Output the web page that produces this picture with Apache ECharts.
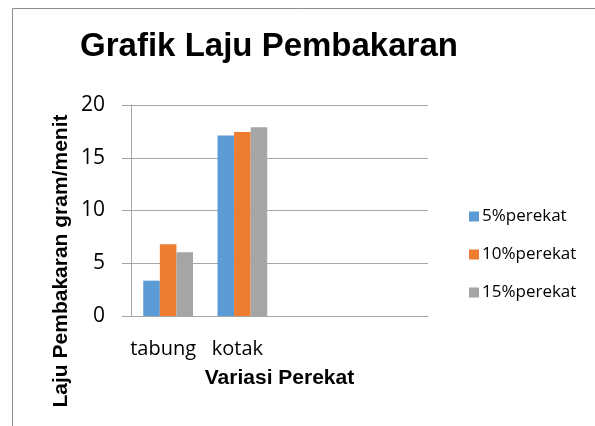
<!DOCTYPE html>
<html>
<head>
<meta charset="utf-8">
<script src="https://cdn.jsdelivr.net/npm/echarts@6/dist/echarts.min.js"></script>
<style>
    html, body { margin: 0; padding: 0; background: #fff; }
    #chart { width: 595px; height: 426px; }
</style>
</head>
<body>
<div id="chart"></div>
<script>
    // data
    var categories = ['tabung', 'kotak', '', ''];
    var seriesNames = ['5%perekat', '10%perekat', '15%perekat'];
    var perekat5 = [3.35, 17.1, null, null];
    var perekat10 = [6.8, 17.45, null, null];
    var perekat15 = [6.05, 17.9, null, null];
    var yTicks = [0, 5, 10, 15, 20];

    var colors = ['#5B9BD5', '#ED7D31', '#A5A5A5'];
    var chart = echarts.init(document.getElementById('chart'));

    function bar(name, data, color) {
        return {
            name: name,
            type: 'bar',
            data: data,
            barGap: '0%',
            barCategoryGap: '33%',
            itemStyle: { color: color },
            emphasis: { disabled: true }
        };
    }

    chart.setOption({
        animation: false,
        title: {
            text: 'Grafik Laju Pembakaran',
            left: 264,
            top: 25,
            textAlign: 'center',
            textStyle: { fontFamily: 'Liberation Sans', fontWeight: 'bold', fontSize: 33, color: '#000' }
        },
        legend: {
            orient: 'vertical',
            left: 464,
            top: 203,
            itemWidth: 10,
            itemHeight: 10,
            itemGap: 21,
            icon: 'rect',
            data: seriesNames,
            textStyle: { fontFamily: 'Open Sans', fontSize: 17, color: '#000', padding: [0, 0, 0, -2] }
        },
        grid: { left: 131, right: 167, top: 105, bottom: 110, containLabel: false },
        xAxis: {
            type: 'category',
            data: categories,
            name: 'Variasi Perekat',
            nameLocation: 'middle',
            nameGap: 52,
            nameTextStyle: { fontFamily: 'Liberation Sans', fontWeight: 'bold', fontSize: 21, color: '#000' },
            axisLine: { lineStyle: { color: '#a6a6a6', width: 1 } },
            axisTick: { show: false },
            axisLabel: { margin: 23, fontFamily: 'Open Sans', fontSize: 20, color: '#000', interval: 0, padding: [0, 10, 0, 0] }
        },
        yAxis: {
            type: 'value',
            min: yTicks[0],
            max: yTicks[yTicks.length - 1],
            interval: yTicks[1] - yTicks[0],
            axisLine: { show: true, lineStyle: { color: '#a6a6a6', width: 1 } },
            axisTick: { show: true, length: 9, lineStyle: { color: '#a6a6a6' } },
            splitLine: { lineStyle: { color: '#a6a6a6', width: 1 } },
            axisLabel: { margin: 26, fontFamily: 'Open Sans', fontSize: 21, color: '#000' }
        },
        series: [
            bar(seriesNames[0], perekat5, colors[0]),
            bar(seriesNames[1], perekat10, colors[1]),
            bar(seriesNames[2], perekat15, colors[2])
        ],
        graphic: [
            {
                type: 'text',
                x: 61,
                y: 261,
                rotation: Math.PI / 2,
                style: {
                    text: 'Laju Pembakaran gram/menit',
                    font: 'bold 21px "Liberation Sans"',
                    fill: '#000',
                    align: 'center',
                    verticalAlign: 'middle'
                }
            },
            // chart border (partly cut off in the picture)
            { type: 'line', shape: { x1: 12.5, y1: 8.5, x2: 595, y2: 8.5 }, style: { stroke: '#8c8c8c', lineWidth: 1 } },
            { type: 'line', shape: { x1: 12.5, y1: 8.5, x2: 12.5, y2: 426 }, style: { stroke: '#8c8c8c', lineWidth: 1 } }
        ]
    });
</script>
</body>
</html>
